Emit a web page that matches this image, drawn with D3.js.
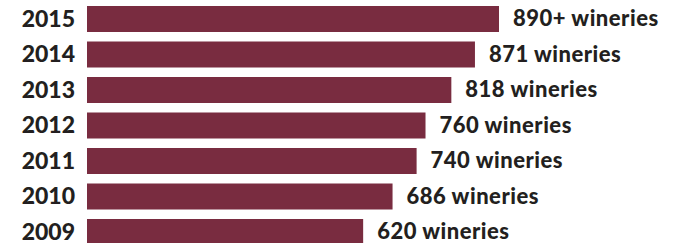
<!DOCTYPE html>
<html>
<head>
<meta charset="utf-8">
<script src="https://cdn.jsdelivr.net/npm/d3@7"></script>
<style>
  html, body { margin: 0; padding: 0; background: #fff; }
  svg { display: block; }
</style>
</head>
<body>
<svg id="chart"></svg>
<script>
// data (2015 bar drawn longer than 890, labelled "890+")
const years = ['2015', '2014', '2013', '2012', '2011', '2010', '2009'];
const wineries = [925, 871, 818, 760, 740, 686, 620];
const valueLabels = ['890+ wineries', '871 wineries', '818 wineries', '760 wineries',
  '740 wineries', '686 wineries', '620 wineries'];

const width = 678, height = 243;
const left = 87, barMax = 412;
const barColor = '#792c40';
const textColor = '#231f20';
const font = 'Lato, "DejaVu Sans", sans-serif';

const svg = d3.select('#chart').attr('width', width).attr('height', height);

const x = d3.scaleLinear()
  .domain([0, d3.max(wineries)])
  .range([left, left + barMax]);

const y = d3.scaleBand()
  .domain(years)
  .range([6, 245])
  .paddingInner(0.2676)
  .paddingOuter(0);

const rows = years.map((yr, i) => ({ year: yr, v: wineries[i], label: valueLabels[i] }));

svg.selectAll('rect.bar')
  .data(rows)
  .join('rect')
  .attr('class', 'bar')
  .attr('x', x(0))
  .attr('y', d => y(d.year))
  .attr('width', d => x(d.v) - x(0))
  .attr('height', y.bandwidth())
  .attr('fill', barColor);

// year labels on the left
svg.selectAll('text.year')
  .data(rows)
  .join('text')
  .attr('class', 'year')
  .attr('x', 75)
  .attr('y', d => y(d.year) + y.bandwidth() / 2)
  .attr('dy', '0.33em')
  .attr('text-anchor', 'end')
  .style('font-family', font)
  .style('font-weight', 900)
  .style('font-size', '23px')
  .style('fill', textColor)
  .text(d => d.year);

// value labels after each bar
svg.selectAll('text.value')
  .data(rows)
  .join('text')
  .attr('class', 'value')
  .attr('x', d => x(d.v) + 14)
  .attr('y', d => y(d.year) + y.bandwidth() / 2)
  .attr('dy', '0.34em')
  .style('font-family', font)
  .style('font-weight', 900)
  .style('font-size', '22px')
  .style('letter-spacing', '0.5px')
  .style('fill', textColor)
  .text(d => d.label);
</script>
</body>
</html>
